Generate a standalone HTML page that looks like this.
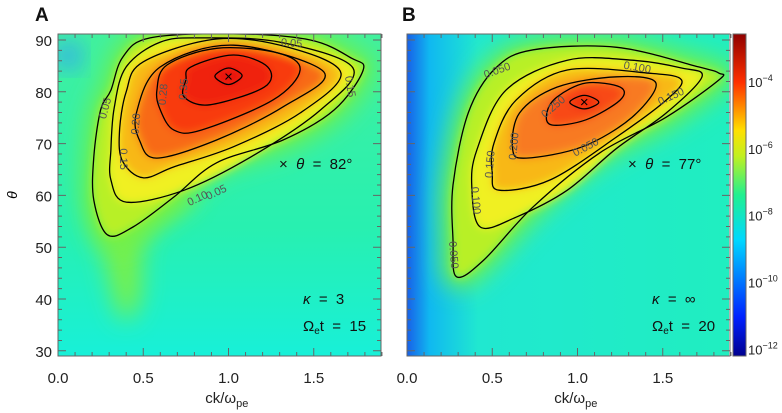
<!DOCTYPE html>
<html><head><meta charset="utf-8">
<style>
body{margin:0;background:#fff;}
svg{display:block;font-family:"Liberation Sans","DejaVu Sans",sans-serif;}
</style></head>
<body>
<svg id="chart" width="782" height="413" viewBox="0 0 782 413" xmlns="http://www.w3.org/2000/svg">
<defs>
<filter id="blur" x="-20%" y="-20%" width="140%" height="140%"><feGaussianBlur stdDeviation="4.5"/></filter>
<filter id="blur2" x="-30%" y="-30%" width="160%" height="160%"><feGaussianBlur stdDeviation="12"/></filter>
<linearGradient id="jet" x1="0" y1="1" x2="0" y2="0">
<stop offset="0" stop-color="#00008f"/><stop offset="0.12" stop-color="#0020ff"/>
<stop offset="0.36" stop-color="#00d8ff"/><stop offset="0.5" stop-color="#20f090"/>
<stop offset="0.62" stop-color="#c0f020"/><stop offset="0.7" stop-color="#ffe000"/>
<stop offset="0.85" stop-color="#ff3000"/><stop offset="1" stop-color="#900000"/>
</linearGradient>
<linearGradient id="bgA" x1="0" y1="0" x2="0" y2="1">
<stop offset="0" stop-color="#40f0a0"/><stop offset="0.6" stop-color="#28f0b0"/><stop offset="1" stop-color="#18f0d8"/>
</linearGradient>
<linearGradient id="bgB" x1="0" y1="0" x2="1" y2="0">
<stop offset="0" stop-color="#1860e8"/><stop offset="0.07" stop-color="#10b8f0"/><stop offset="0.22" stop-color="#20e8d0"/><stop offset="1" stop-color="#20eec0"/>
</linearGradient>
<clipPath id="clipA"><rect x="58" y="34" width="323" height="322"/></clipPath>
<clipPath id="clipB"><rect x="407" y="34" width="322" height="322"/></clipPath>
</defs>
<g id="root"></g>
</svg>
<script>
// ---- data ----
const xTicks = [0.0, 0.5, 1.0, 1.5];
const xTickLabels = ["0.0", "0.5", "1.0", "1.5"];
const yTicks = [30, 40, 50, 60, 70, 80, 90];
const yTickLabels = ["30", "40", "50", "60", "70", "80", "90"];
const cbTicks = [-4, -6, -8, -10, -12];
const levelsA = ["0.05", "0.10", "0.15", "0.20", "0.28", "0.35"];
const levelsB = ["0.050", "0.100", "0.150", "0.200", "0.250"];
const fillColorsA = ["#b8f028", "#f0f020", "#f8b818", "#f86a18", "#f83a10", "#f02008", "#e81808"];
const fillColorsB = ["#b8f028", "#f0f020", "#f8b818", "#f87a20", "#f84a14", "#f02a0a", "#e81808"];

const contourA005 = [[0.31,80.3],[0.25,76.5],[0.21,67.4],[0.21,59.1],[0.29,52.4],[0.44,53.9],[0.68,59.7],[0.93,66.3],[1.32,70.7],[1.62,76.5],[1.79,84.2],[1.72,86.5],[1.48,90],[1.03,91.2],[0.54,90.4],[0.38,86.7]];
const contourA010 = [[0.40,58.7],[0.31,63],[0.31,68.8],[0.33,77],[0.40,84.8],[0.60,89.6],[0.84,90.4],[1.30,89.6],[1.73,84.6],[1.54,76.5],[1.13,67.4],[0.74,61]];
const contourA015 = [[0.50,63.4],[0.38,66.5],[0.36,72],[0.40,80],[0.50,85.8],[0.93,90.2],[1.35,88.6],[1.66,83.6],[1.42,75.9],[1.03,69.4],[0.68,65.5]];
const contourA020 = [[0.58,67.2],[0.48,70.5],[0.46,75.9],[0.60,84.8],[1.03,89.0],[1.56,83.8],[1.32,77.1],[0.93,70.7]];
const contourA028 = [[0.60,76.5],[0.68,72.6],[0.84,72.6],[1.26,78.4],[1.42,84.2],[1.29,87.5],[0.93,88.4],[0.64,85.2],[0.58,80.3]];
const contourA035 = [[0.74,79],[0.89,77.5],[1.21,80.9],[1.23,84.8],[1.03,87.1],[0.78,84.8],[0.75,82.3]];
const contourA040 = [[0.92,83],[1.0,84.6],[1.08,83.1],[1.0,81.4]];
const contoursA = [contourA005, contourA010, contourA015, contourA020, contourA028, contourA035, contourA040];

const contourB005 = [[0.52,84.6],[0.36,76],[0.27,62],[0.27,51.4],[0.29,44.3],[0.45,47.5],[0.74,57.8],[1.13,68.2],[1.52,75.1],[1.83,82.3],[1.83,83.6],[1.71,84.8],[1.23,88.6],[0.74,88.1]];
const contourB010 = [[0.38,61.6],[0.43,53.9],[0.64,55.8],[0.94,61],[1.23,69.1],[1.52,75.9],[1.73,82.9],[1.61,84.6],[1.32,86.1],[0.94,86.1],[0.58,80.3],[0.41,68.8]];
const contourB015 = [[0.50,64.3],[0.54,61],[0.84,63],[1.23,71.3],[1.52,78.4],[1.61,82.3],[1.42,83.6],[0.94,84.2],[0.64,78.4],[0.51,70.1]];
const contourB020 = [[0.62,68.8],[0.70,67.2],[1.03,69.4],[1.32,75.1],[1.46,81.7],[1.23,82.9],[0.88,80.9],[0.66,75.9]];
const contourB025 = [[0.82,75.9],[0.85,73.6],[1.05,74.6],[1.25,78.4],[1.25,80.9],[1.05,81.7],[0.88,79]];
const contourB030 = [[0.955,78],[1.04,79.3],[1.125,78],[1.04,76.7]];
const contoursB = [contourB005, contourB010, contourB015, contourB020, contourB025, contourB030];

const labelsA = [[0.28,76.8,-75,"0.05"],[0.38,67,90,"0.15"],[0.46,73.8,-85,"0.20"],[0.62,79.5,-85,"0.28"],[0.74,80.5,-85,"0.35"],[0.82,59.3,-25,"0.10"],[0.93,60.5,-25,"0.05"],[1.71,81,80,"0.15"],[1.37,89.3,5,"0.05"]];
const labelsB = [[0.53,84,-20,"0.050"],[1.35,84.6,10,"0.100"],[1.55,79,-25,"0.150"],[0.86,77,-40,"0.250"],[0.63,69.5,-85,"0.200"],[0.49,66,-85,"0.150"],[0.40,59,85,"0.100"],[0.27,48.5,85,"0.050"],[1.05,69.2,-28,"0.050"]];

// ---- axes ----
const NS = "http://www.w3.org/2000/svg";
const root = document.getElementById("root");
function mk(tag, attrs, parent) { const e = document.createElementNS(NS, tag); for (const k in attrs) e.setAttribute(k, attrs[k]); (parent || root).appendChild(e); return e; }
function xScale(x0) { return v => x0 + v * 170.5; }
function yScale(v) { return 40 + (90 - v) * 5.18; }
function pathFrom(pts, sx) {
  const P = pts.map(p => [sx(p[0]), yScale(p[1])]); const n = P.length; let d = "M" + P[0][0] + "," + P[0][1];
  for (let i = 0; i < n; i++) {
    const p0 = P[(i - 1 + n) % n], p1 = P[i], p2 = P[(i + 1) % n], p3 = P[(i + 2) % n];
    const c1 = [p1[0] + (p2[0] - p0[0]) / 6, p1[1] + (p2[1] - p0[1]) / 6];
    const c2 = [p2[0] - (p3[0] - p1[0]) / 6, p2[1] - (p3[1] - p1[1]) / 6];
    d += "C" + c1[0].toFixed(1) + "," + c1[1].toFixed(1) + " " + c2[0].toFixed(1) + "," + c2[1].toFixed(1) + " " + p2[0].toFixed(1) + "," + p2[1].toFixed(1);
  }
  return d + "Z";
}

function panel(id, x0, contours, labels, bg, clip, peak, fills) {
  const sx = xScale(x0);
  const g = mk("g", {"clip-path": "url(#" + clip + ")"});
  
  
  mk("rect", {x: x0, y: 34, width: 323, height: 322, fill: bg}, g);
  if (id === "a") {
    const band = mk("path", {d: pathFrom([[0.22,60],[0.30,44],[0.38,36],[0.48,40],[0.52,52],[0.8,60],[0.5,62]], sx), fill: "#78f048", filter: "url(#blur2)"}, g);
    
    
    const corner = mk("ellipse", {cx: sx(0.06), cy: yScale(87), rx: 14, ry: 14, fill: "#30a8f0", filter: "url(#blur2)"}, g);
    
    
  }
  const halo = mk("path", {d: pathFrom(contours[0], sx), fill: "#70f048", stroke: "#70f048", "stroke-width": 22, filter: "url(#blur2)"}, g);
  
  
  const fg = mk("g", {filter: "url(#blur)"}, g);
  contours.forEach((c, i) => {
    const f = mk("path", {d: pathFrom(c, sx), fill: fills[i]}, fg);
    
    
  });
  contours.forEach((c, i) => {
    const p = mk("path", {d: pathFrom(c, sx), fill: "none", stroke: "#000", "stroke-width": 1.3}, g);
    
    
  });
  labels.forEach(l => {
    const t = mk("text", {x: sx(l[0]), y: yScale(l[1]), "font-size": 11, fill: "#555", "text-anchor": "middle", "dominant-baseline": "middle", transform: "rotate(" + l[2] + " " + sx(l[0]) + " " + yScale(l[1]) + ")"}, g);
    
    
    t.textContent = l[3];
  });
  const m = mk("text", {x: sx(peak[0]), y: yScale(peak[1]) + 5, "font-size": 15, "text-anchor": "middle"}, g);
  
  
  m.textContent = "×";
  const fr = mk("rect", {x: x0, y: 34, width: 323, height: 322, fill: "none", stroke: "#666", "stroke-width": 1});
  
  
  let d = "";
  for (let v = 0; v <= 1.9001; v += 0.1) {
    const x = sx(v); const major = Math.abs(v * 2 - Math.round(v * 2)) < 1e-6; const L = major ? 8 : 4;
    d += "M" + x + ",356v-" + L + "M" + x + ",34v" + L;
  }
  for (let v = 30; v <= 90; v += 2) {
    const y = yScale(v); const L = v % 10 === 0 ? 8 : 4;
    d += "M" + x0 + "," + y + "h" + L + "M" + (x0 + 323) + "," + y + "h-" + L;
  }
  const tk = mk("path", {d: d, stroke: "#666", "stroke-width": 1, fill: "none"});
  
  
  xTicks.forEach((v, i) => {
    const t = mk("text", {x: sx(v), y: 383, "font-size": 15, "text-anchor": "middle", fill: "#222"});
    
    
    t.textContent = xTickLabels[i];
  });
  const xl = mk("text", {x: sx(0.99), y: 403, "font-size": 15, "text-anchor": "middle", fill: "#222"});
  
  
  xl.innerHTML = 'ck/ω<tspan font-size="11" dy="4">pe</tspan>';
}

panel("a", 58, contoursA, labelsA, "url(#bgA)", "clipA", [1.0, 83], fillColorsA);
panel("b", 407, contoursB, labelsB, "url(#bgB)", "clipB", [1.04, 78], fillColorsB);

yTicks.forEach((v, i) => {
  const t = mk("text", {x: 52, y: yScale(v) + 6, "font-size": 15, "text-anchor": "end", fill: "#222"});
  
  
  t.textContent = yTickLabels[i];
});
const yl = mk("text", {x: 17, y: 195, "font-size": 14, "font-style": "italic", "text-anchor": "middle", transform: "rotate(-90 17 195)"});


yl.textContent = "θ";

function txt(name, x, y, html, size, extra) {
  const t = mk("text", Object.assign({x: x, y: y, "font-size": size, fill: "#111"}, extra || {}));
  
  
  t.innerHTML = html;
}
txt("panel-label-a", 35, 21, "A", 19, {"font-weight": "bold"});
txt("panel-label-b", 402, 21, "B", 19, {"font-weight": "bold"});
txt("peak-annotation-a", 279, 169, '×  <tspan font-style="italic">θ</tspan>  =  82°', 15);
txt("kappa-annotation-a", 303, 304, '<tspan font-style="italic">κ</tspan>  =  3', 15);
txt("time-annotation-a", 303, 331, 'Ω<tspan font-size="10" dy="3">e</tspan><tspan dy="-3">t  =  15</tspan>', 15);
txt("peak-annotation-b", 628, 169, '×  <tspan font-style="italic">θ</tspan>  =  77°', 15);
txt("kappa-annotation-b", 652, 304, '<tspan font-style="italic">κ</tspan>  =  ∞', 15);
txt("time-annotation-b", 652, 331, 'Ω<tspan font-size="10" dy="3">e</tspan><tspan dy="-3">t  =  20</tspan>', 15);
document.querySelectorAll("text").forEach(t => t.style.whiteSpace = "pre");

// colorbar
const cbTop = 34, cbBot = 356, cbMax = -2.56, cbMin = -12.2;
function cbY(v) { return cbTop + (cbMax - v) / (cbMax - cbMin) * (cbBot - cbTop); }
const cb = mk("rect", {x: 733, y: cbTop, width: 13, height: cbBot - cbTop, fill: "url(#jet)", stroke: "#666", "stroke-width": 1});


cbTicks.forEach(v => {
  const t = mk("text", {x: 748, y: cbY(v) + 5, "font-size": 13, fill: "#222"});
  
  
  t.innerHTML = '10<tspan font-size="9" dy="-6">' + String(v).replace("-", "−") + '</tspan>';
});
</script>
</body></html>
